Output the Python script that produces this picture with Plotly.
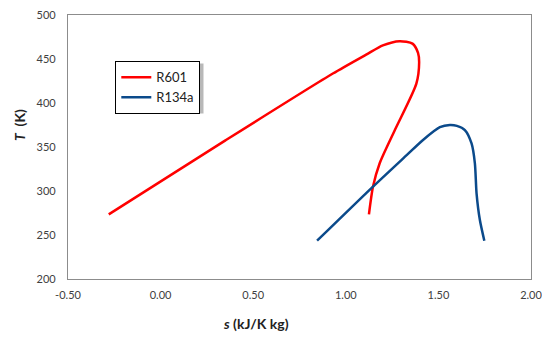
import plotly.graph_objects as go

# R601 saturation dome (s in kJ/K kg, T in K)
r601_s = [-0.28, 0.35, 0.93, 1.11, 1.20, 1.29, 1.36, 1.39, 1.396, 1.381, 1.265, 1.183, 1.147, 1.125]
r601_T = [273.5, 357.5, 433.5, 455.0, 465.5, 470.3, 467.5, 457.0, 446.0, 422.0, 369.3, 331.5, 305.0, 273.5]

# R134a saturation dome
r134a_s = [0.845, 1.147, 1.330, 1.417, 1.508, 1.562, 1.60, 1.643, 1.679, 1.697, 1.706, 1.724, 1.748]
r134a_T = [243.5, 305.0, 341.0, 358.0, 372.5, 375.0, 374.0, 369.3, 354.0, 331.5, 297.4, 267.0, 243.5]

x_ticks = [-0.5, 0.0, 0.5, 1.0, 1.5, 2.0]
x_ticklabels = ["-0.50", "0.00", "0.50", "1.00", "1.50", "2.00"]
y_ticks = [200, 250, 300, 350, 400, 450, 500]

fig = go.Figure()
fig.add_trace(go.Scatter(x=r601_s, y=r601_T, mode="lines", name="R601",
                         line=dict(color="#FF0000", width=2.5, shape="spline", smoothing=0.7),
                         legendgroup="a"))
fig.add_trace(go.Scatter(x=r134a_s, y=r134a_T, mode="lines", name="R134a",
                         line=dict(color="#0B4A8B", width=2.5, shape="spline", smoothing=0.7),
                         legendgroup="b"))

# page body has an 8px margin; work in window pixel coordinates and shift
OFF = 8
W, H = 550 - OFF, 341 - OFF
L, T = 68 - OFF, 15 - OFF
R = 550 - 531
B = 341 - 279
pw, ph = W - L - R, H - T - B

def px(xp):
    return (xp - OFF - L) / pw

def py(yp):
    return 1 - (yp - OFF - T) / ph

fig.update_layout(
    width=W, height=H,
    margin=dict(l=L, r=R, t=T, b=B, autoexpand=False),
    paper_bgcolor="white", plot_bgcolor="white",
    font=dict(family="Lato, Open Sans, sans-serif", size=11, color="#404040"),
    showlegend=True,
    legend=dict(x=px(115), y=py(61), xanchor="left", yanchor="top",
                bgcolor="white", bordercolor="black", borderwidth=1.3,
                font=dict(size=13, color="#222222"), tracegroupgap=0,
                itemwidth=30),
    xaxis=dict(range=[-0.5, 2.0], tickvals=x_ticks, ticktext=x_ticklabels,
               showgrid=False, zeroline=False, showline=True, linecolor="#8c8c8c",
               linewidth=1.3, mirror=True, ticks="", automargin=False,
               ticklabelstandoff=6, ticklabeloverflow="allow"),
    yaxis=dict(range=[200, 500], tickvals=y_ticks,
               showgrid=False, zeroline=False, showline=True, linecolor="#8c8c8c",
               linewidth=1.3, mirror=True, ticks="", automargin=False,
               ticklabelstandoff=9, ticklabeloverflow="allow"),
    annotations=[
        dict(text="<b><i>s</i> (kJ/K kg)</b>", x=px(256), y=py(323), xref="paper", yref="paper",
             showarrow=False, font=dict(size=14, color="#222222"), xanchor="center", yanchor="middle"),
        dict(text="<b><i>T</i>  (K)</b>", x=px(19), y=py(125), xref="paper", yref="paper",
             showarrow=False, textangle=-90, font=dict(size=14, color="#222222"),
             xanchor="center", yanchor="middle"),
    ],
    shapes=[
        dict(type="rect", xref="paper", yref="paper",
             x0=px(117.5), x1=px(203.5), y0=py(113.5), y1=py(63.5),
             fillcolor="rgba(0,0,0,0.28)", line=dict(width=0), layer="above"),
    ],
)

fig.write_html("out.html")
